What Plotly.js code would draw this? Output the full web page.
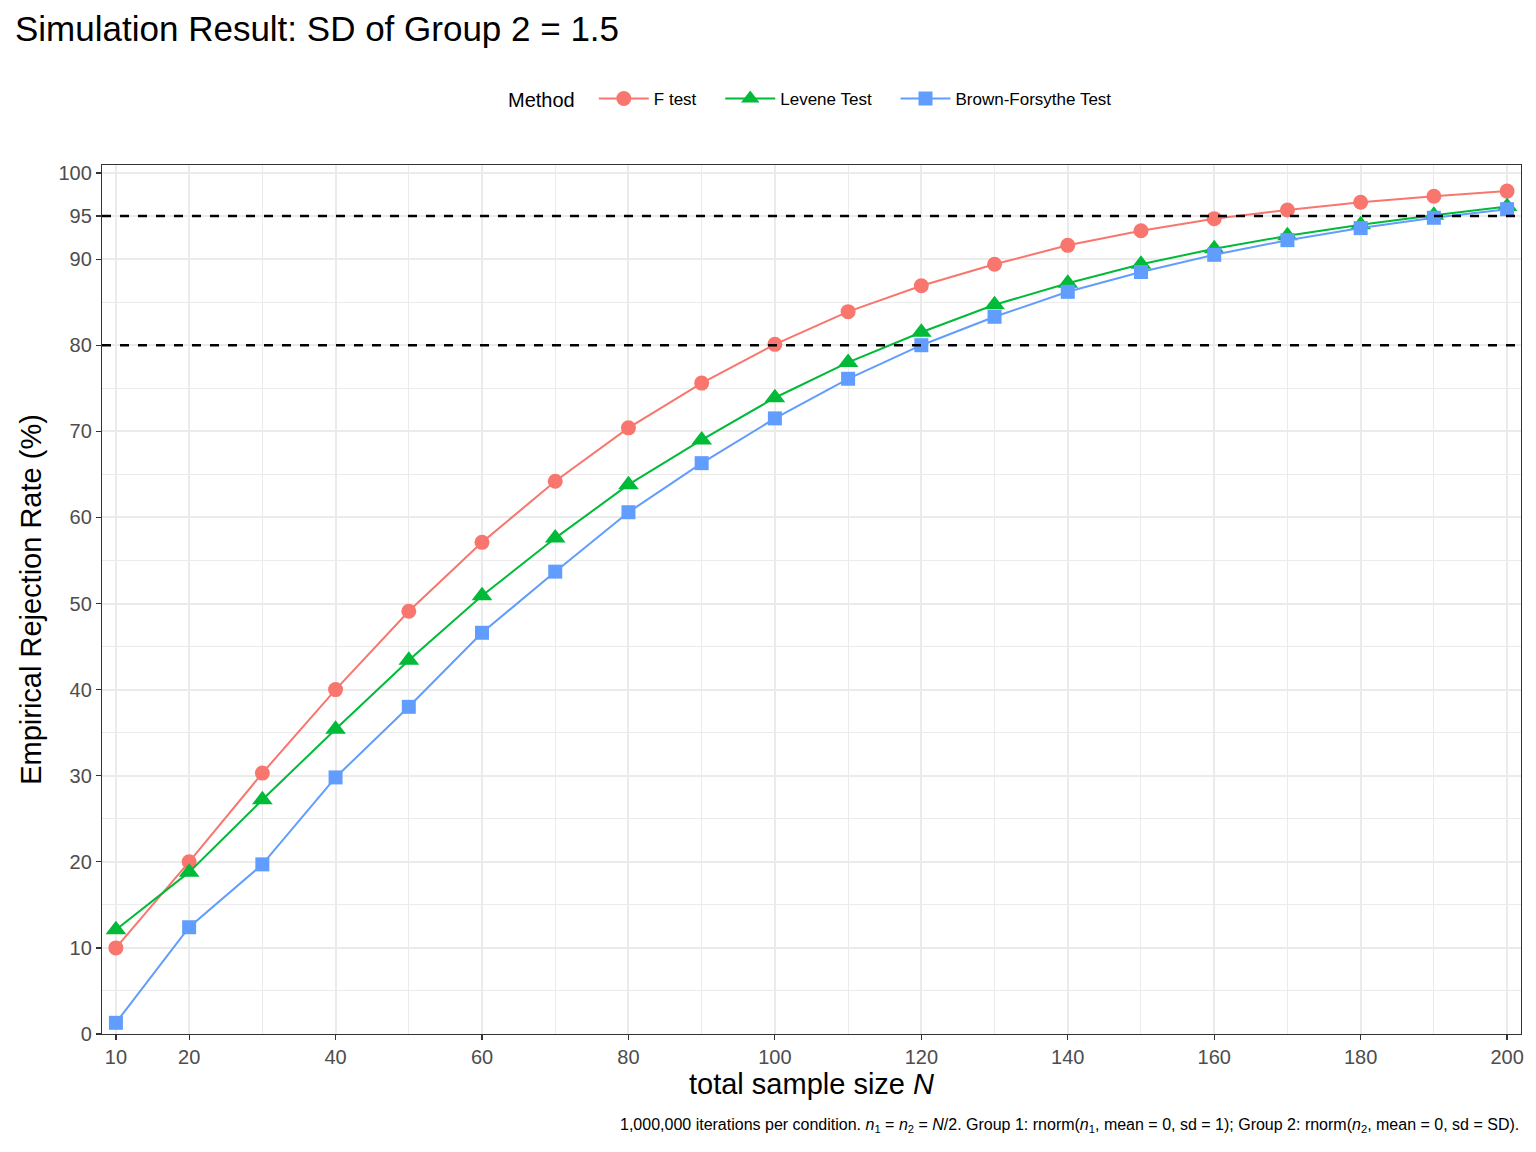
<!DOCTYPE html>
<html>
<head>
<meta charset="utf-8">
<script src="https://cdn.plot.ly/plotly-3.0.1.min.js"></script>
<style>
  html, body { margin: 0; padding: 0; background: #ffffff; }
  #chart { width: 1536px; height: 1152px; }
</style>
</head>
<body>
<div id="chart"></div>
<script>
// total sample size N
var sampleSizes = [10, 20, 30, 40, 50, 60, 70, 80, 90, 100, 110, 120, 130, 140, 150, 160, 170, 180, 190, 200];

// empirical rejection rate (%) per method
var fTest = [10.0, 20.0, 30.3, 40.0, 49.1, 57.1, 64.2, 70.4, 75.6, 80.1, 83.9, 86.9, 89.4, 91.6, 93.3, 94.7, 95.7, 96.6, 97.3, 97.9];
var leveneTest = [12.1, 18.8, 27.2, 35.4, 43.4, 50.9, 57.6, 63.8, 69.0, 73.9, 78.0, 81.5, 84.7, 87.2, 89.4, 91.2, 92.7, 94.0, 95.1, 96.1];
var brownForsythe = [1.3, 12.4, 19.7, 29.8, 38.0, 46.6, 53.7, 60.6, 66.3, 71.5, 76.1, 80.0, 83.3, 86.2, 88.5, 90.5, 92.2, 93.6, 94.8, 95.8];

var methodNames = ["F test", "Levene Test", "Brown-Forsythe Test"];
var powerLines = [80, 95];

var xTicks = [10, 20, 40, 60, 80, 100, 120, 140, 160, 180, 200];
var xMinor = [30, 50, 70, 90, 110, 130, 150, 170, 190];
var yTicks = [0, 10, 20, 30, 40, 50, 60, 70, 80, 90, 95, 100];
var yMinor = [5, 15, 25, 35, 45, 55, 65, 75, 85];

var font = "Liberation Sans, Arial, sans-serif";
var pad = '\u00a0\u00a0\u00a0\u00a0';

function series(name, y, color, symbol, size) {
    return {
        x: sampleSizes,
        y: y,
        name: name,
        type: 'scatter',
        mode: 'lines+markers',
        line: { color: color, width: 2 },
        marker: { color: color, symbol: symbol, size: size, line: { width: 0 } },
        cliponaxis: false
    };
}

var data = [
    series(methodNames[0] + pad, fTest, '#F8766D', 'circle', 15),
    series(methodNames[1] + pad, leveneTest, '#00BA38', 'triangle-up', 18),
    series(methodNames[2], brownForsythe, '#619CFF', 'square', 14)
];

// reference lines at 80% and 95%; grid lines would cover them if drawn below
var shapes = powerLines.map(function (v) {
    return {
        type: 'line', xref: 'paper', yref: 'y',
        x0: 0, x1: 1, y0: v, y1: v,
        line: { color: '#000000', width: 2.5, dash: 'dash' },
        layer: 'above'
    };
});

var layout = {
    width: 1536,
    height: 1152,
    paper_bgcolor: '#ffffff',
    plot_bgcolor: '#ffffff',
    font: { family: font, color: '#000000' },
    margin: { t: 165, r: 15, b: 118, l: 102 },
    title: {
        text: 'Simulation Result: SD of Group 2 = 1.5',
        x: 15 / 1536, xref: 'container', xanchor: 'left',
        y: 1 - 29 / 1152, yref: 'container', yanchor: 'middle',
        font: { size: 35, family: font, color: '#000000' }
    },
    xaxis: {
        range: [8.1, 201.9],
        tickvals: xTicks,
        ticktext: xTicks.map(String),
        ticks: 'outside', ticklen: 5, tickwidth: 1.2, tickcolor: '#333333',
        tickfont: { size: 20, color: '#4d4d4d', family: font },
        showgrid: true, gridcolor: '#ebebeb', gridwidth: 2,
        minor: { tickvals: xMinor, showgrid: true, gridcolor: '#ebebeb', gridwidth: 1, ticklen: 0 },
        zeroline: false,
        showline: true, linecolor: '#333333', linewidth: 1.2, mirror: true,
        title: { text: 'total sample size <i>N</i>', font: { size: 29, family: font, color: '#000000' }, standoff: 6 }
    },
    yaxis: {
        range: [0, 100.93],
        tickvals: yTicks,
        ticktext: yTicks.map(String),
        ticks: 'outside', ticklen: 5, tickwidth: 1.2, tickcolor: '#333333',
        tickfont: { size: 20, color: '#4d4d4d', family: font },
        showgrid: true, gridcolor: '#ebebeb', gridwidth: 2,
        minor: { tickvals: yMinor, showgrid: true, gridcolor: '#ebebeb', gridwidth: 1, ticklen: 0 },
        zeroline: false,
        showline: true, linecolor: '#333333', linewidth: 1.2, mirror: true,
        title: { text: 'Empirical Rejection Rate (%)', font: { size: 29, family: font, color: '#000000' }, standoff: 8 }
    },
    showlegend: true,
    legend: {
        orientation: 'h',
        x: 0.5, xanchor: 'center',
        y: 1.076, yanchor: 'middle',
        title: { text: 'Method\u00a0\u00a0', font: { size: 20, family: font, color: '#000000' }, side: 'left' },
        font: { size: 17, family: font, color: '#000000' },
        itemwidth: 50,
        bgcolor: 'rgba(0,0,0,0)'
    },
    shapes: shapes,
    annotations: [{
        text: '1,000,000 iterations per condition. <i>n</i><sub>1</sub> = <i>n</i><sub>2</sub> = <i>N</i>/2. Group 1: rnorm(<i>n</i><sub>1</sub>, mean = 0, sd = 1); Group 2: rnorm(<i>n</i><sub>2</sub>, mean = 0, sd = SD).',
        xref: 'paper', yref: 'paper',
        x: 1, y: -(1125 - 1034) / 869,
        xanchor: 'right', yanchor: 'middle',
        showarrow: false,
        font: { size: 16, family: font, color: '#000000' }
    }]
};

Plotly.newPlot('chart', data, layout, { displayModeBar: false, staticPlot: true });
</script>
</body>
</html>
